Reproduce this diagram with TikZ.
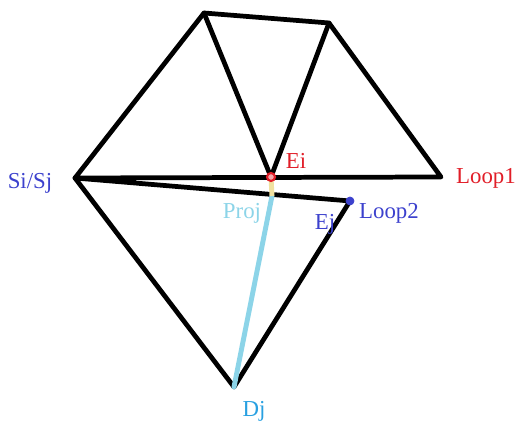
\documentclass[tikz,border=0pt]{standalone}
\usepackage{fontspec}
\setmainfont{Liberation Serif}
\usepackage{xcolor}
\usetikzlibrary{positioning}
\definecolor{loopred}{RGB}{225,30,40}
\definecolor{loopblue}{RGB}{60,65,205}
\definecolor{projblue}{RGB}{140,212,232}
\definecolor{projsand}{RGB}{240,225,160}
\definecolor{djblue}{RGB}{40,160,225}
\tikzset{
	edge/.style={black,line width=2.7pt,line cap=round,line join=round},
	lbl/.style={inner sep=0pt,font=\fontsize{13}{15}\selectfont},
}

\begin{document}
\begin{tikzpicture}[x=0.02cm,y=-0.02cm]
		
		\useasboundingbox (0,0) rectangle (515,422);
		
		\coordinate (si) at (75,178);
		\coordinate (top1) at (204,13);
		\coordinate (top2) at (329,23);
		\coordinate (ei) at (271,177);
		\coordinate (end1) at (441,177);
		\coordinate (ej) at (350,201);
		\coordinate (dj) at (234,387);
		\coordinate (foot) at (272,196);
		
		\draw[edge]
		(si) -- (top1) -- (top2) -- (end1) -- (si);
		
		\draw[edge]
		(top1) -- (ei) -- (top2);
		
		\draw[edge]
		(si) -- (ej) -- (dj) -- (si);
		
		\draw[edge,line width=2pt]
		(si) -- ++(60,3);
		
		\draw[projblue,line width=2.8pt,line cap=round]
		(foot) -- (dj);
		
		\draw[projsand,line width=2.8pt]
		(ei) -- (foot);
		
		\draw[loopred,line width=1.2pt,fill=loopred!40]
		(ei) circle (4);
		
		\filldraw[loopblue]
		(ej) circle (4);
		
		\node[lbl,text=loopblue] (lblsi)
		at (30,183) {Si/Sj};
		
		\node[lbl,text=loopred] (lblei)
		at (296,161) {Ei};
		
		\node[lbl,text=loopred] (lblloop1)
		at (486,178) {Loop1};
		
		\node[lbl,text=projblue] (lblproj)
		at (242,213) {Proj};
		
		\node[lbl,text=loopblue] (lblej)
		at (325,224) {Ej};
		
		\node[lbl,text=loopblue] (lblloop2)
		at (389,213) {Loop2};
		
		\node[lbl,text=djblue] (lbldj)
		at (254,411) {Dj};
		
	\end{tikzpicture}
\end{document}
